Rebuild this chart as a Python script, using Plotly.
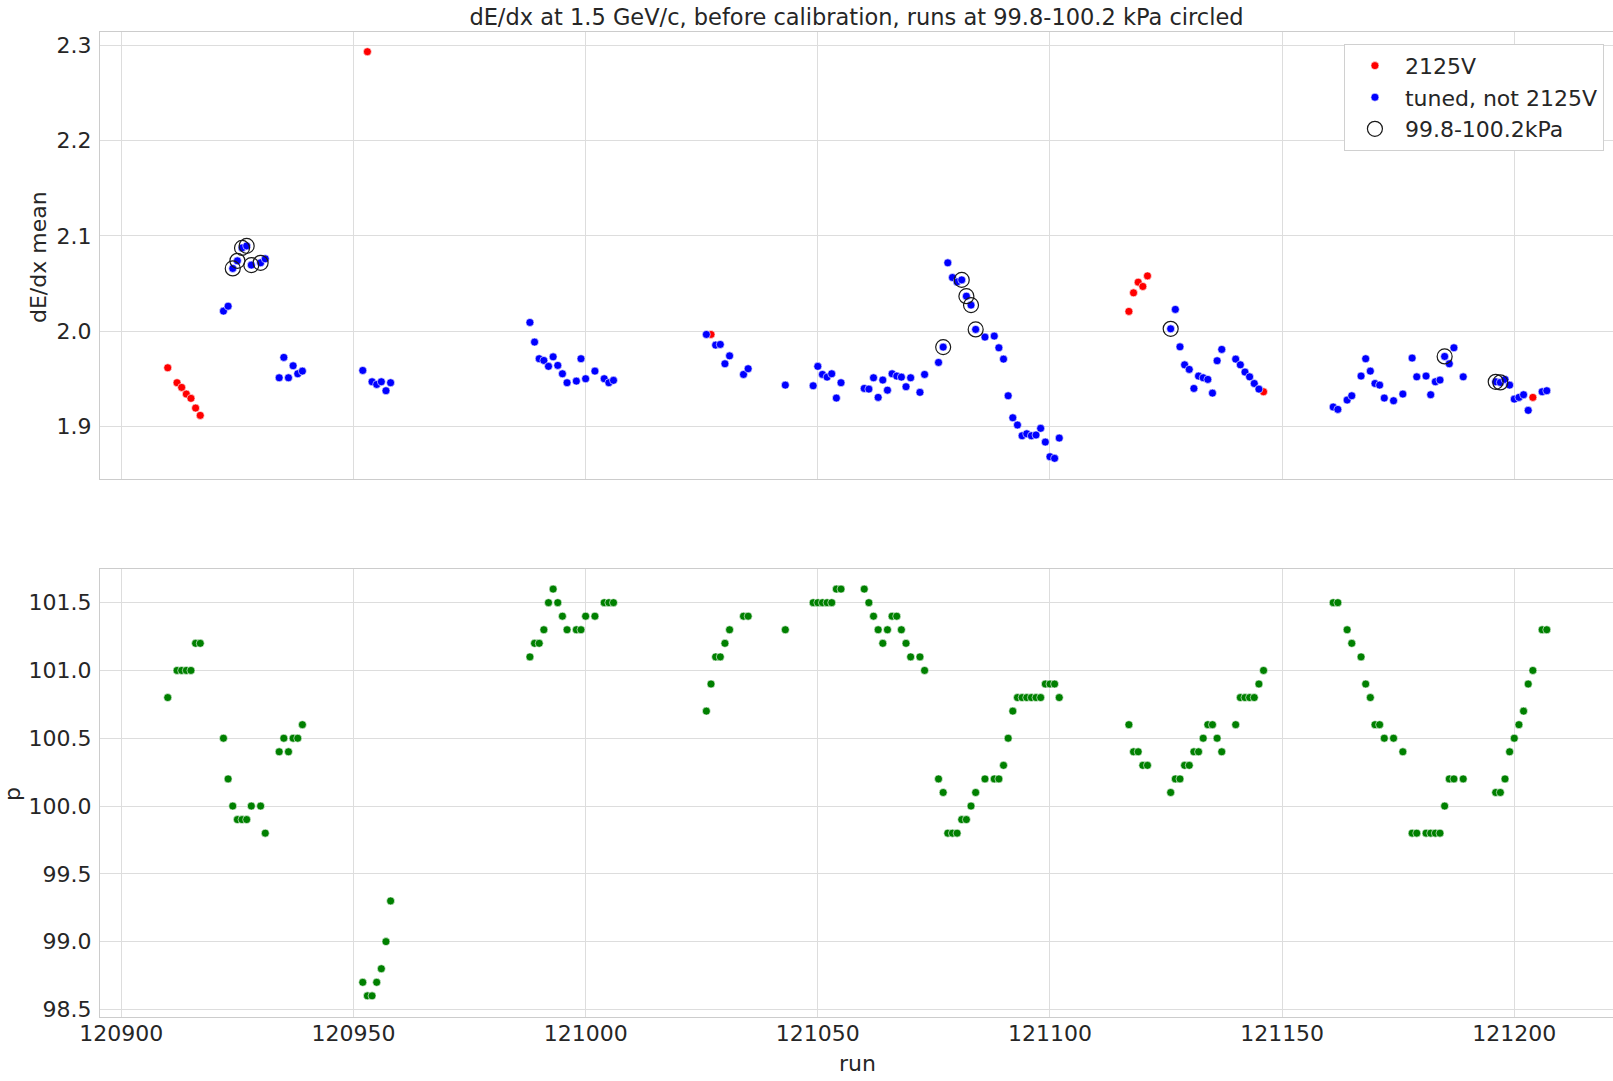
import plotly.graph_objects as go

# run number, dE/dx mean and pressure (kPa) per run
runs = [120910, 120912, 120913, 120914, 120915, 120916, 120917,
        120922, 120923, 120924, 120925, 120926, 120927, 120928, 120930, 120931,
        120934, 120935, 120936, 120937, 120938, 120939,
        120952, 120953, 120954, 120955, 120956, 120957, 120958,
        120988, 120989, 120990, 120991, 120992, 120993, 120994, 120995, 120996,
        120998, 120999, 121000, 121002, 121004, 121005, 121006,
        121026, 121027, 121028, 121029, 121030, 121031, 121034, 121035, 121043,
        121049, 121050, 121051, 121052, 121053, 121054, 121055,
        121060, 121061, 121062, 121063, 121064, 121065, 121066, 121067, 121068,
        121069, 121070, 121072, 121073,
        121076, 121077, 121078, 121079, 121080, 121081, 121082, 121083, 121084,
        121086, 121088, 121089, 121090, 121091, 121092, 121093, 121094, 121095,
        121096, 121097, 121098, 121099, 121100, 121101, 121102,
        121117, 121118, 121119, 121120, 121121,
        121126, 121127, 121128, 121129, 121130, 121131, 121132, 121133, 121134,
        121135, 121136, 121137, 121140, 121141, 121142, 121143, 121144, 121145,
        121146,
        121161, 121162, 121164, 121165, 121167, 121168, 121169, 121170, 121171,
        121172, 121174, 121176, 121178, 121179, 121181, 121182, 121183, 121184,
        121185, 121186, 121187, 121189,
        121196, 121197, 121198, 121199, 121200, 121201, 121202, 121203, 121204,
        121206, 121207]

dedx = [1.9615, 1.9458, 1.9409, 1.9339, 1.9294, 1.9192, 1.9115,
        2.0210, 2.0262, 2.0658, 2.0738, 2.0874, 2.0895, 2.0693, 2.0717, 2.0759,
        1.9510, 1.9724, 1.9510, 1.9636, 1.9552, 1.9580,
        1.9587, 2.2934, 1.9468, 1.9440, 1.9468, 1.9374, 1.9458,
        2.0091, 1.9885, 1.9710, 1.9692, 1.9630, 1.9730, 1.9640, 1.9552, 1.9458,
        1.9475, 1.9710, 1.9500, 1.9580, 1.9500, 1.9458, 1.9483,
        1.9965, 1.9965, 1.9853, 1.9860, 1.9657, 1.9740, 1.9545, 1.9605, 1.9433,
        1.9426, 1.9630, 1.9545, 1.9517, 1.9552, 1.9297, 1.9458,
        1.9398, 1.9391, 1.9510, 1.9304, 1.9486, 1.9380, 1.9552, 1.9528, 1.9517,
        1.9416, 1.9510, 1.9357, 1.9545,
        1.9671, 1.9832, 2.0717, 2.0563, 2.0517, 2.0538, 2.0367, 2.0273, 2.0018,
        1.9937, 1.9948, 1.9825, 1.9706, 1.9321, 1.9090, 1.9014, 1.8901, 1.8922,
        1.8901, 1.8909, 1.8979, 1.8835, 1.8681, 1.8664, 1.8877,
        2.0207, 2.0402, 2.0514, 2.0469, 2.0580,
        2.0024, 2.0228, 1.9835, 1.9646, 1.9598, 1.9398, 1.9528, 1.9510, 1.9493,
        1.9349, 1.9689, 1.9808, 1.9706, 1.9646, 1.9570, 1.9520, 1.9450, 1.9391,
        1.9363,
        1.9203, 1.9178, 1.9276, 1.9321, 1.9528, 1.9710, 1.9580, 1.9450, 1.9433,
        1.9297, 1.9269, 1.9339, 1.9717, 1.9520, 1.9528, 1.9332, 1.9468, 1.9486,
        1.9734, 1.9657, 1.9825, 1.9520,
        1.9468, 1.9461, 1.9493, 1.9433, 1.9286, 1.9304, 1.9332, 1.9168, 1.9304,
        1.9363, 1.9374]

pressure = [100.8, 101.0, 101.0, 101.0, 101.0, 101.2, 101.2,
            100.5, 100.2, 100.0, 99.9, 99.9, 99.9, 100.0, 100.0, 99.8,
            100.4, 100.5, 100.4, 100.5, 100.5, 100.6,
            98.7, 98.6, 98.6, 98.7, 98.8, 99.0, 99.3,
            101.1, 101.2, 101.2, 101.3, 101.5, 101.6, 101.5, 101.4, 101.3,
            101.3, 101.3, 101.4, 101.4, 101.5, 101.5, 101.5,
            100.7, 100.9, 101.1, 101.1, 101.2, 101.3, 101.4, 101.4, 101.3,
            101.5, 101.5, 101.5, 101.5, 101.5, 101.6, 101.6,
            101.6, 101.5, 101.4, 101.3, 101.2, 101.3, 101.4, 101.4, 101.3,
            101.2, 101.1, 101.1, 101.0,
            100.2, 100.1, 99.8, 99.8, 99.8, 99.9, 99.9, 100.0, 100.1,
            100.2, 100.2, 100.2, 100.3, 100.5, 100.7, 100.8, 100.8, 100.8,
            100.8, 100.8, 100.8, 100.9, 100.9, 100.9, 100.8,
            100.6, 100.4, 100.4, 100.3, 100.3,
            100.1, 100.2, 100.2, 100.3, 100.3, 100.4, 100.4, 100.5, 100.6,
            100.6, 100.5, 100.4, 100.6, 100.8, 100.8, 100.8, 100.8, 100.9,
            101.0,
            101.5, 101.5, 101.3, 101.2, 101.1, 100.9, 100.8, 100.6, 100.6,
            100.5, 100.5, 100.4, 99.8, 99.8, 99.8, 99.8, 99.8, 99.8,
            100.0, 100.2, 100.2, 100.2,
            100.1, 100.1, 100.2, 100.4, 100.5, 100.6, 100.7, 100.9, 101.0,
            101.3, 101.3]

# runs taken at 2125 V
runs_2125v = [120910, 120912, 120913, 120914, 120915, 120916, 120917, 120953,
              121027, 121117, 121118, 121119, 121120, 121121, 121146, 121204]

TXT = "#262626"
GRID = "#dddddd"
FONT = "DejaVu Sans"

red_x = [r for r in runs if r in runs_2125v]
red_y = [d for r, d in zip(runs, dedx) if r in runs_2125v]
blue_x = [r for r in runs if r not in runs_2125v]
blue_y = [d for r, d in zip(runs, dedx) if r not in runs_2125v]
circ = [(r, d) for r, d, p in zip(runs, dedx, pressure) if 99.85 <= p <= 100.15]

fig = go.Figure()
dot = dict(size=8, line=dict(color="white", width=0.6))
fig.add_scatter(x=red_x, y=red_y, mode="markers", name="2125V",
                marker=dict(color="red", **dot), xaxis="x", yaxis="y")
fig.add_scatter(x=blue_x, y=blue_y, mode="markers", name="tuned, not 2125V",
                marker=dict(color="blue", **dot), xaxis="x", yaxis="y")
fig.add_scatter(x=[c[0] for c in circ], y=[c[1] for c in circ], mode="markers",
                name="99.8-100.2kPa",
                marker=dict(symbol="circle-open", size=15, color="#1a1a1a",
                            line=dict(width=1.2)),
                xaxis="x", yaxis="y")
fig.add_scatter(x=runs, y=pressure, mode="markers", showlegend=False,
                marker=dict(color="green", **dot), xaxis="x2", yaxis="y2")

xr = [120895.41, 121221.26]
ax = dict(showgrid=True, gridcolor=GRID, gridwidth=1, showline=True,
          linecolor="#cccccc", linewidth=1.2, mirror=True, zeroline=False,
          tickfont=dict(size=22, color=TXT, family=FONT))
yax = dict(ax, ticks="outside", ticklen=3, tickcolor="rgba(0,0,0,0)")
xax = dict(ax, ticks="", ticklabelstandoff=-4)

fig.update_layout(
    width=1613, height=1081,
    margin=dict(l=100, r=0, t=32, b=64),
    paper_bgcolor="white", plot_bgcolor="white",
    font=dict(family=FONT, color=TXT),
    title=dict(text="dE/dx at 1.5 GeV/c, before calibration, runs at 99.8-100.2 kPa circled",
               x=0.5, xref="paper", y=1 - 17.5 / 1081, yref="container",
               yanchor="middle", xanchor="center",
               font=dict(size=22.5, color=TXT, family=FONT)),
    xaxis=dict(xax, domain=[0, 1], range=xr, dtick=50, tick0=120900,
               anchor="y", showticklabels=False, matches="x2"),
    yaxis=dict(yax, domain=[0.5458, 1], range=[1.8443, 2.3141], dtick=0.1,
               tick0=1.9, tickformat=".1f", anchor="x"),
    xaxis2=dict(xax, domain=[0, 1], range=xr, dtick=50, tick0=120900,
                anchor="y2", tickformat="d"),
    yaxis2=dict(yax, domain=[0, 0.4548], range=[98.444, 101.748], dtick=0.5,
                tick0=98.5, tickformat=".1f", anchor="x2"),
    legend=dict(x=0.994, y=0.988, xanchor="right", yanchor="top",
                bgcolor="white", bordercolor="#d0d0d0", borderwidth=1,
                font=dict(size=22, color=TXT, family=FONT),
                itemsizing="trace", itemwidth=50),
    showlegend=True,
)

lab = dict(size=22, color=TXT, family=FONT)
fig.add_annotation(text="dE/dx mean", xref="paper", yref="paper",
                   x=(38 - 100) / 1513, y=(1017 - 257) / 985, textangle=-90,
                   xanchor="center", yanchor="middle", showarrow=False, font=lab)
fig.add_annotation(text="p", xref="paper", yref="paper",
                   x=(12 - 100) / 1513, y=(1017 - 794) / 985, textangle=-90,
                   xanchor="center", yanchor="middle", showarrow=False, font=lab)
fig.add_annotation(text="run", xref="paper", yref="paper",
                   x=(857 - 100) / 1513, y=(1017 - 1063) / 985,
                   xanchor="center", yanchor="middle", showarrow=False, font=lab)

fig.write_html("out.html", config={"displayModeBar": False},
               post_script="document.body.style.margin='0';")
